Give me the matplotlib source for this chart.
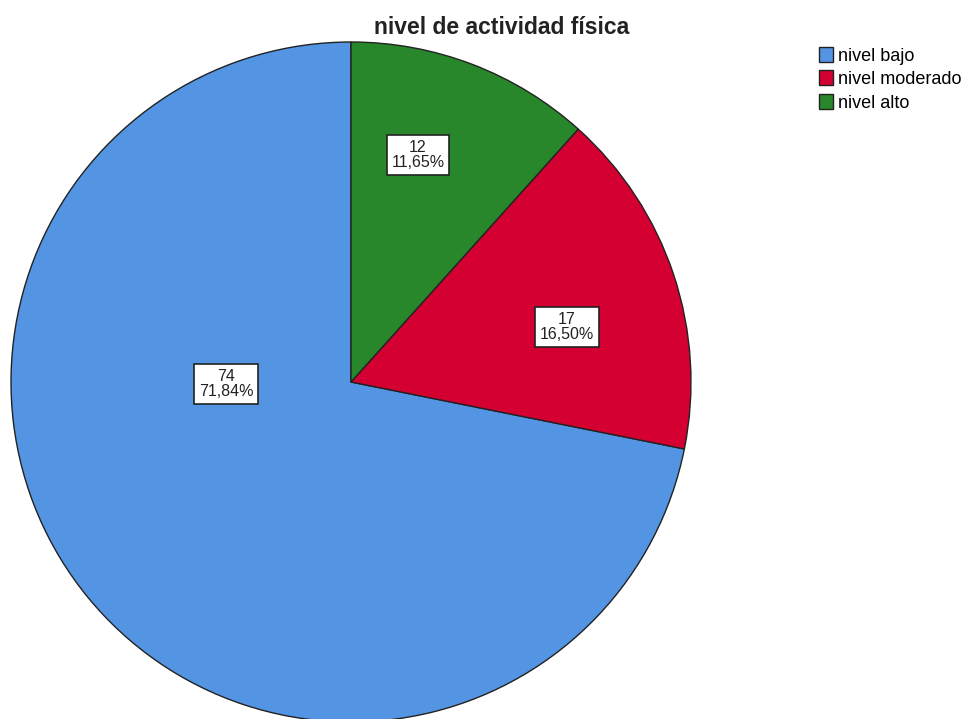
import matplotlib
matplotlib.use('Agg')
import matplotlib.pyplot as plt

'''Pie chart: nivel de actividad fisica (SPSS style)'''

categories = ['nivel bajo', 'nivel moderado', 'nivel alto']
counts = [74, 17, 12]
percents = ['71,84%', '16,50%', '11,65%']
colors = ['#5394E3', '#D40032', '#27872A']

# label positions inside each wedge, in units of the radius
label_pos = [(-0.368, -0.006), (0.635, 0.162), (0.197, 0.668)]

plt.rcParams['font.family'] = ['Liberation Sans', 'DejaVu Sans']

W, H = 971, 719
fig = plt.figure(figsize=(W/100, H/100), dpi=100)
cx, cy, r = 351, 382, 340
ax = fig.add_axes([(cx - r)/W, (H - cy - r)/H, 2*r/W, 2*r/H])

wedges, _ = ax.pie(counts, colors=colors, startangle=90, counterclock=True,
                   radius=1, center=(0, 0),
                   wedgeprops={'edgecolor': '#222222', 'linewidth': 1.0})
for w in wedges:
    w.set_clip_on(False)
ax.set_xlim(-1, 1)
ax.set_ylim(-1, 1)
ax.set_aspect('equal')
ax.axis('off')

for (x, y), n, p in zip(label_pos, counts, percents):
    ax.text(x, y, f'{n}\n{p}', ha='center', va='center', fontsize=11.5,
            linespacing=1.05, color='#222222',
            bbox=dict(boxstyle='square,pad=0.3', fc='white', ec='#222222', lw=1.2))

fig.text(502/W, 1 - 27/H, 'nivel de actividad física', ha='center', va='center',
         fontsize=16.5, fontweight='bold', color='#222222')

handles = [plt.Rectangle((0, 0), 1, 1, fc=c, ec='#222222', lw=1.0) for c in colors]
fig.legend(handles, categories, loc='upper left', bbox_to_anchor=(819/W, 1 - 47/H),
           frameon=False, fontsize=13, handlelength=0.75, handleheight=0.9,
           handletextpad=0.3, labelspacing=0.32, borderaxespad=0, borderpad=0)

fig.savefig('out.png', dpi=100)
